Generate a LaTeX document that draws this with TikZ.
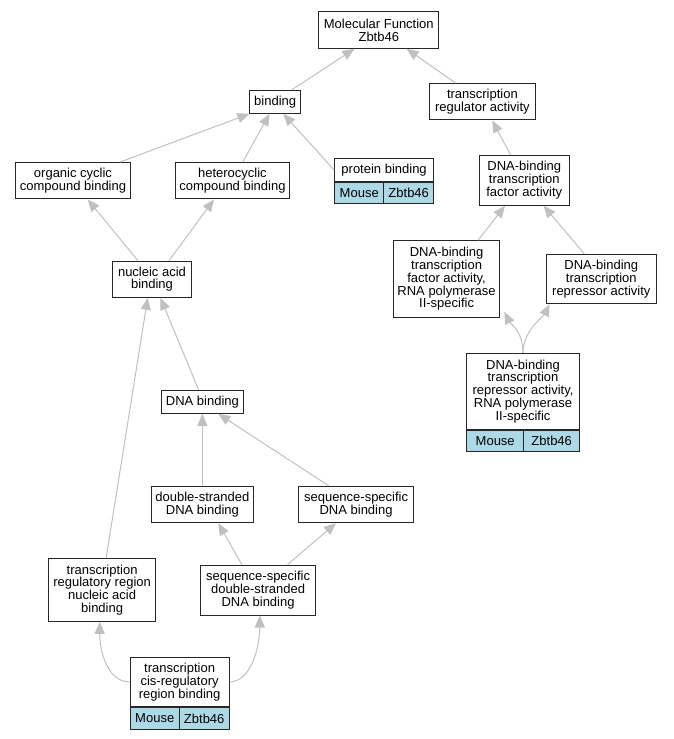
\documentclass[tikz,border=0pt]{standalone}
\usepackage{fontspec}
\setmainfont{Liberation Sans}
\usetikzlibrary{arrows.meta,calc}
\definecolor{edgegray}{HTML}{C0C0C0}
\definecolor{cellblue}{HTML}{ADD8E6}

\begin{document}
\begin{tikzpicture}[x=1pt,y=-1pt,
    term/.style={draw=black!85, line width=1pt, fill=white, align=center, inner sep=0pt, font=\fontsize{13}{12.8}\selectfont},
    cell/.style={term, fill=cellblue, minimum height=21.5pt},
    isa/.style={draw=edgegray, line width=1pt, -{Triangle[length=12pt,width=10pt]}}]
    \useasboundingbox (0,0) rectangle (673,739);

    % Top level
    \node[term, minimum width=119.8pt, minimum height=36.6pt] (mf) at (378.8,30) {Molecular Function\\Zbtb46};
    \node[term, minimum width=50.5pt, minimum height=23pt] (bind) at (275.2,101.8) {binding};
    \node[term, minimum width=106.1pt, minimum height=36.3pt] (tra) at (482.4,101.8) {transcription\\regulator activity};

    % Binding branch
    \node[term, minimum width=114.3pt, minimum height=36.3pt] (occb) at (73,180.8) {organic cyclic\\compound binding};
    \node[term, minimum width=114.8pt, minimum height=36.3pt] (hccb) at (232.4,180.8) {heterocyclic\\compound binding};
    \node[term, minimum width=98.9pt, minimum height=22.6pt] (pb) at (384.1,170) {protein binding};
    \node[cell, minimum width=49.2pt, anchor=north west] (pbmouse) at (pb.south west) {Mouse};
    \node[cell, minimum width=49.7pt, anchor=north east] (pbgene) at (pb.south east) {Zbtb46};
    \node[term, minimum width=78.7pt, minimum height=36.3pt] (nab) at (152,279.2) {nucleic acid\\binding};
    \node[term, minimum width=81.3pt, minimum height=23pt] (dnab) at (202.4,401.8) {DNA binding};
    \node[term, minimum width=102.7pt, minimum height=36.4pt] (dsdb) at (202.4,504.5) {double-stranded\\DNA binding};
    \node[term, minimum width=114.7pt, minimum height=36.4pt] (ssdb) at (356.1,504.5) {sequence-specific\\DNA binding};
    \node[term, minimum width=106.6pt, minimum height=62.6pt] (trr) at (102.1,590) {transcription\\regulatory region\\nucleic acid\\binding};
    \node[term, minimum width=114.7pt, minimum height=50pt] (ssds) at (258.1,590) {sequence-specific\\double-stranded\\DNA binding};
    \node[term, minimum width=98.9pt, minimum height=49.7pt] (cis) at (179.6,681.9) {transcription\\cis-regulatory\\region binding};
    \node[cell, minimum width=49.2pt, anchor=north west] (cismouse) at (cis.south west) {Mouse};
    \node[cell, minimum width=49.7pt, anchor=north east] (cisgene) at (cis.south east) {Zbtb46};

    % Regulator branch
    \node[term, minimum width=89.8pt, minimum height=50pt] (dbtfa) at (524.3,180.3) {DNA-binding\\transcription\\factor activity};
    \node[term, minimum width=106.6pt, minimum height=76.6pt] (dbtfa2) at (446.6,279) {DNA-binding\\transcription\\factor activity,\\RNA polymerase\\II-specific};
    \node[term, minimum width=110.5pt, minimum height=49.4pt] (dbtra) at (601.3,279) {DNA-binding\\transcription\\repressor activity};
    \node[term, minimum width=113pt, minimum height=76pt] (dbtra2) at (523,391.3) {DNA-binding\\transcription\\repressor activity,\\RNA polymerase\\II-specific};
    \node[cell, minimum width=57.4pt, anchor=north west] (dbtra2mouse) at (dbtra2.south west) {Mouse};
    \node[cell, minimum width=55.6pt, anchor=north east] (dbtra2gene) at (dbtra2.south east) {Zbtb46};

    % is_a edges
    \draw[isa] ([xshift=16.7pt]bind.north) -- ([xshift=-24.4pt]mf.south);
    \draw[isa] ([xshift=-26.6pt]tra.north) -- ([xshift=27.8pt]mf.south);
    \draw[isa] ([xshift=46.8pt]occb.north) -- (bind.south west);
    \draw[isa] ([xshift=10.3pt]hccb.north) -- ([xshift=-5.6pt]bind.south);
    \draw[isa] (pb.west) -- ([xshift=8.1pt]bind.south);
    \draw[isa] ([xshift=-13.7pt]dbtfa.north) -- ([xshift=9.8pt]tra.south);
    \draw[isa] ([xshift=-14.2pt]nab.north) -- ([xshift=14.7pt]occb.south);
    \draw[isa] ([xshift=17.1pt]nab.north) -- ([xshift=-18.4pt]hccb.south);
    \draw[isa] ([xshift=31.5pt]dbtfa2.north) -- ([xshift=-19.3pt]dbtfa.south);
    \draw[isa] ([xshift=-17pt]dbtra.north) -- ([xshift=19.3pt]dbtfa.south);
    \draw[isa] (dbtra2.north) .. controls +(0,-22) and +(6,12) .. ([xshift=4pt,yshift=6pt]dbtfa2.south east);
    \draw[isa] (dbtra2.north) .. controls +(0,-22) and +(-6,12) .. ([xshift=4pt]dbtra.south west);
    \draw[isa] ([xshift=-3.8pt]dnab.north) -- ([xshift=8.5pt]nab.south);
    \draw[isa] ([xshift=4pt]trr.north) -- ([xshift=-4.3pt]nab.south);
    \draw[isa] (dsdb.north) -- (dnab.south);
    \draw[isa] ([xshift=-27.4pt]ssdb.north) -- ([xshift=15.9pt]dnab.south);
    \draw[isa] ([xshift=-16.3pt]ssds.north) -- ([xshift=15.9pt]dsdb.south);
    \draw[isa] ([xshift=29.5pt]ssds.north) -- ([xshift=-20.1pt]ssdb.south);
    \draw[isa] (cis.west) .. controls +(-22,0) and +(0,30) .. ([xshift=-2.4pt]trr.south);
    \draw[isa] (cis.east) .. controls +(22,0) and +(0,30) .. ([xshift=1.7pt]ssds.south);
\end{tikzpicture}
\end{document}
